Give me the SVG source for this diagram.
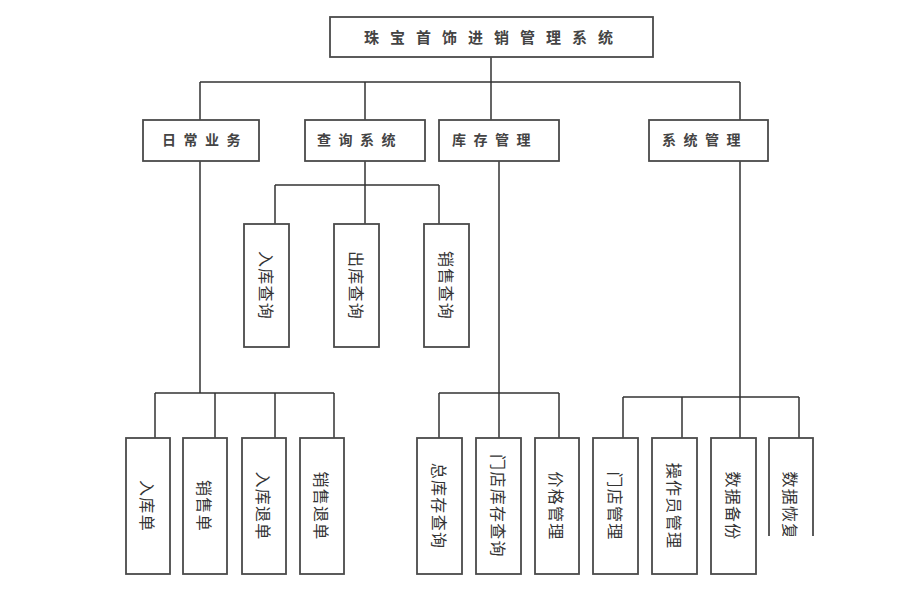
<svg xmlns="http://www.w3.org/2000/svg" width="905" height="596" viewBox="0 0 905 596">
<style>
.box{fill:#fff;stroke:#4a4a4a;stroke-width:1.8}
.ln{fill:none;stroke:#333;stroke-width:1.5}
.t1{font-family:"Noto Sans CJK SC","Noto Sans",sans-serif;font-size:15px;font-weight:bold;fill:#444;letter-spacing:11px}
.t2{font-family:"Noto Sans CJK SC","Noto Sans",sans-serif;font-size:14px;font-weight:bold;fill:#444;letter-spacing:7.5px}
.tv{font-family:"Noto Sans CJK SC","Noto Sans",sans-serif;font-size:16px;fill:#333;letter-spacing:1.3px;text-anchor:middle;dominant-baseline:central}
</style>
<defs>
<clipPath id="cut"><rect x="760" y="430" width="60" height="106"/></clipPath>
</defs>
<rect width="905" height="596" fill="#fff"/>
<g id="connectors" class="ln">
<path d="M491,57 V82 M200,82 H740 M200,82 V120 M365,82 V120 M491,82 V120 M740,82 V120"/>
<path d="M365,161 V224 M275,185 H439 M275,185 V224 M439,185 V224"/>
<path d="M200,161 V393 M155,393 H334 M155,393 V438 M215,393 V444 M275,393 V444 M334,393 V438"/>
<path d="M499,161 V393 M439,393 H559 M439,393 V438 M499,393 V438 M559,393 V445"/>
<path d="M740,161 V397 M623,397 H799 M623,397 V438 M682,397 V438 M740,397 V438 M799,397 V438"/>
</g>
<g id="root"><rect class="box" x="330" y="17" width="323" height="40"/><text class="t1" x="364" y="43">珠宝首饰进销管理系统</text></g>
<g id="n-daily"><rect class="box" x="143" y="120" width="116" height="41"/><text class="t2" x="162" y="145">日常业务</text></g>
<g id="n-query"><rect class="box" x="305" y="120" width="120" height="41"/><text class="t2" x="317" y="145">查询系统</text></g>
<g id="n-stock"><rect class="box" x="439" y="120" width="120" height="41"/><text class="t2" x="452" y="145">库存管理</text></g>
<g id="n-sys"><rect class="box" x="649" y="120" width="119" height="41"/><text class="t2" x="662" y="145">系统管理</text></g>
<g id="q1"><rect class="box" x="244" y="224" width="45" height="123"/><text class="tv" transform="translate(266.5,285.5) rotate(90)">入库查询</text></g>
<g id="q2"><rect class="box" x="334" y="224" width="45" height="123"/><text class="tv" transform="translate(356.5,285.5) rotate(90)">出库查询</text></g>
<g id="q3"><rect class="box" x="424" y="224" width="45" height="123"/><text class="tv" transform="translate(446.5,285.5) rotate(90)">销售查询</text></g>
<g id="d1"><rect class="box" x="126" y="438" width="44" height="136"/><text class="tv" transform="translate(148,506) rotate(90)">入库单</text></g>
<g id="d2"><rect class="box" x="183" y="438" width="44" height="136"/><text class="tv" transform="translate(205,506) rotate(90)">销售单</text></g>
<g id="d3"><rect class="box" x="242" y="438" width="44" height="136"/><text class="tv" transform="translate(264,506) rotate(90)">入库退单</text></g>
<g id="d4"><rect class="box" x="300" y="438" width="44" height="136"/><text class="tv" transform="translate(322,506) rotate(90)">销售退单</text></g>
<g id="s1"><rect class="box" x="417" y="438" width="45" height="136"/><text class="tv" transform="translate(439.5,506) rotate(90)">总库存查询</text></g>
<g id="s2"><rect class="box" x="476" y="438" width="45" height="136"/><text class="tv" transform="translate(498.5,506) rotate(90)">门店库存查询</text></g>
<g id="s3"><rect class="box" x="535" y="438" width="44" height="136"/><text class="tv" transform="translate(557,506) rotate(90)">价格管理</text></g>
<g id="m1"><rect class="box" x="593" y="438" width="45" height="136"/><text class="tv" transform="translate(615.5,506) rotate(90)">门店管理</text></g>
<g id="m2"><rect class="box" x="652" y="438" width="45" height="136"/><text class="tv" transform="translate(674.5,506) rotate(90)">操作员管理</text></g>
<g id="m3"><rect class="box" x="711" y="438" width="45" height="136"/><text class="tv" transform="translate(733.5,506) rotate(90)">数据备份</text></g>
<g id="m4" clip-path="url(#cut)"><rect class="box" x="769" y="438" width="44" height="136"/><text class="tv" transform="translate(791,506) rotate(90)">数据恢复</text></g>
</svg>
